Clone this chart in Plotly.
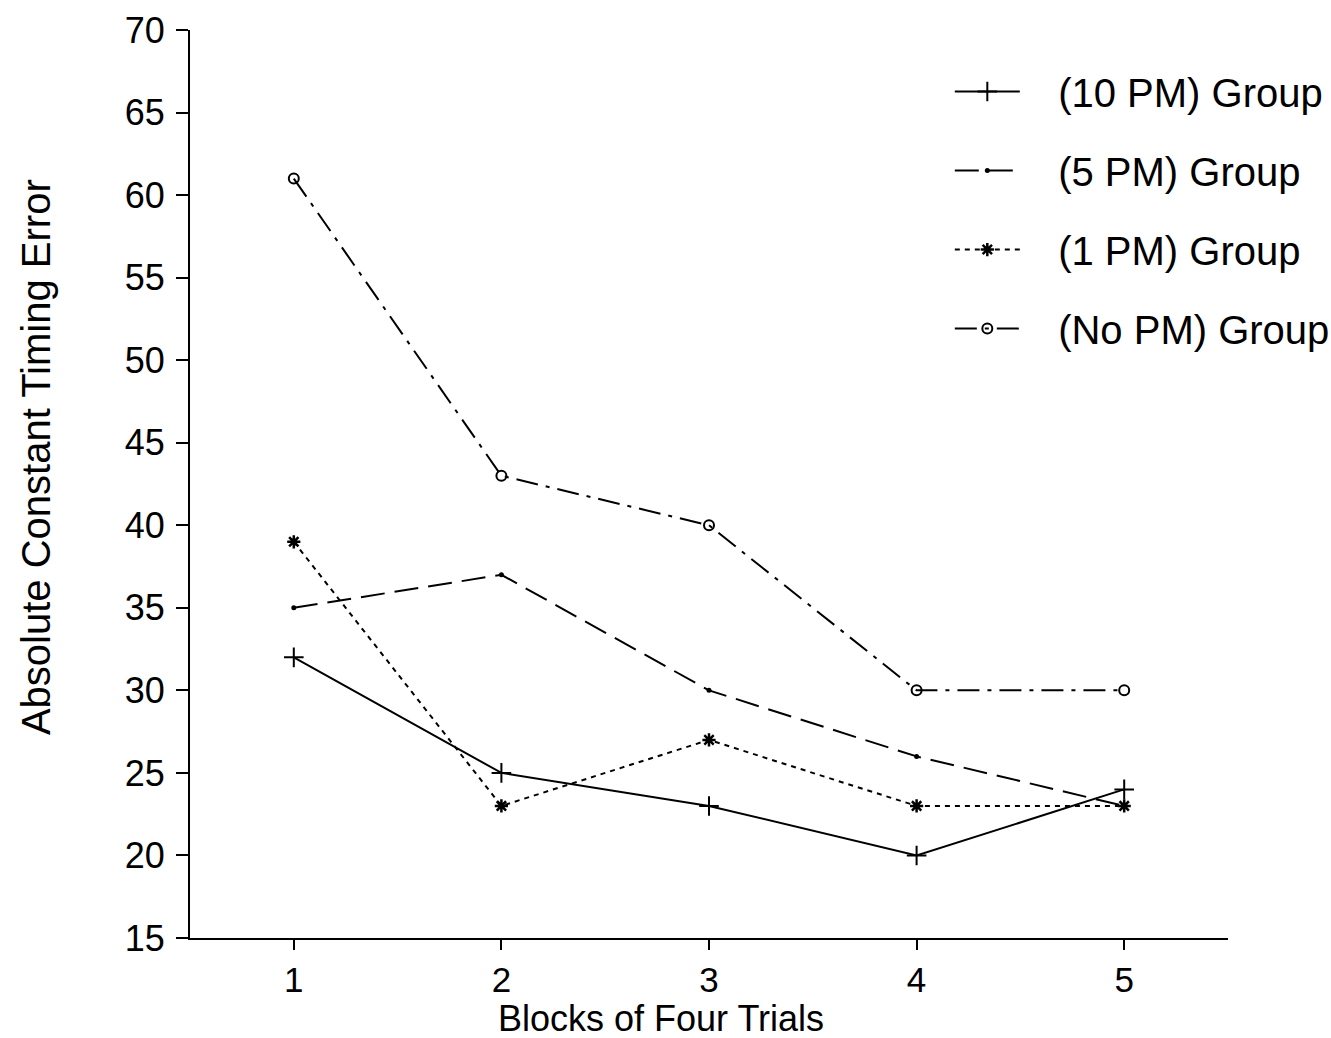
import plotly.graph_objects as go

blocks = [1, 2, 3, 4, 5]
pm10 = [32, 25, 23, 20, 24]
pm5 = [35, 37, 30, 26, 23]
pm1 = [39, 23, 27, 23, 23]
nopm = [61, 43, 40, 30, 30]

names = ["(10 PM) Group", "(5 PM) Group", "(1 PM) Group", "(No PM) Group"]
y_ticks = [15, 20, 25, 30, 35, 40, 45, 50, 55, 60, 65, 70]

FONT = "Liberation Sans, Arial, sans-serif"
PAD = "\u00a0\u00a0\u00a0"

fig = go.Figure()
fig.add_trace(go.Scatter(
    x=blocks, y=pm10, name=PAD + names[0], mode="lines+markers", legendgroup="a",
    line=dict(color="black", width=2, dash="solid"),
    marker=dict(symbol="cross-thin", size=14, color="black", line=dict(color="black", width=2))))
fig.add_trace(go.Scatter(
    x=blocks, y=pm5, name=PAD + names[1], mode="lines+markers", legendgroup="b",
    line=dict(color="black", width=2, dash="24px,10px"),
    marker=dict(symbol="circle", size=5, color="black")))
fig.add_trace(go.Scatter(
    x=blocks, y=pm1, name=PAD + names[2], mode="lines+markers", legendgroup="c",
    line=dict(color="black", width=2, dash="5px,5px"),
    marker=dict(symbol="asterisk", size=11, color="black", line=dict(color="black", width=2.5))))
fig.add_trace(go.Scatter(
    x=blocks, y=nopm, name=PAD + names[3], mode="lines+markers", legendgroup="d",
    line=dict(color="black", width=2, dash="22px,8px,4px,8px"),
    marker=dict(symbol="circle-open", size=10, color="black", line=dict(color="black", width=2))))

fig.update_layout(
    width=1331, height=1038,
    margin=dict(l=190, r=103, t=30, b=100, autoexpand=False),
    paper_bgcolor="white", plot_bgcolor="white",
    font=dict(family=FONT, color="black"),
    showlegend=True,
    legend=dict(
        x=0.732, y=0.968, xanchor="left", yanchor="top",
        font=dict(size=40, family=FONT, color="black"),
        bgcolor="rgba(0,0,0,0)", borderwidth=0,
        itemwidth=65, tracegroupgap=24, traceorder="grouped",
    ),
    xaxis=dict(
        range=[0.5, 5.5], tickvals=blocks, ticktext=[str(b) for b in blocks],
        showgrid=False, zeroline=False, showline=True, linecolor="black", linewidth=2,
        ticks="outside", ticklen=10, tickwidth=1.5, tickcolor="black",
        tickfont=dict(size=35, family=FONT, color="black"),
        ticklabelstandoff=0,
    ),
    yaxis=dict(
        range=[15, 70], tickvals=y_ticks,
        showgrid=False, zeroline=False, showline=True, linecolor="black", linewidth=2,
        ticks="outside", ticklen=12, tickwidth=1.5, tickcolor="black",
        tickfont=dict(size=36, family=FONT, color="black"),
        ticklabelstandoff=4,
    ),
    annotations=[
        dict(text="Blocks of Four Trials", x=0.454, y=-0.089, xref="paper", yref="paper",
             xanchor="center", yanchor="middle", showarrow=False,
             font=dict(size=36, family=FONT, color="black")),
        dict(text="Absolute Constant Timing Error", x=-0.149, y=0.53, xref="paper", yref="paper",
             xanchor="center", yanchor="middle", showarrow=False, textangle=-90,
             font=dict(size=40, family=FONT, color="black")),
    ],
)

fig.write_html("out.html", config={"displayModeBar": False},
               post_script="document.body.style.margin='0';document.body.style.overflow='hidden';")
